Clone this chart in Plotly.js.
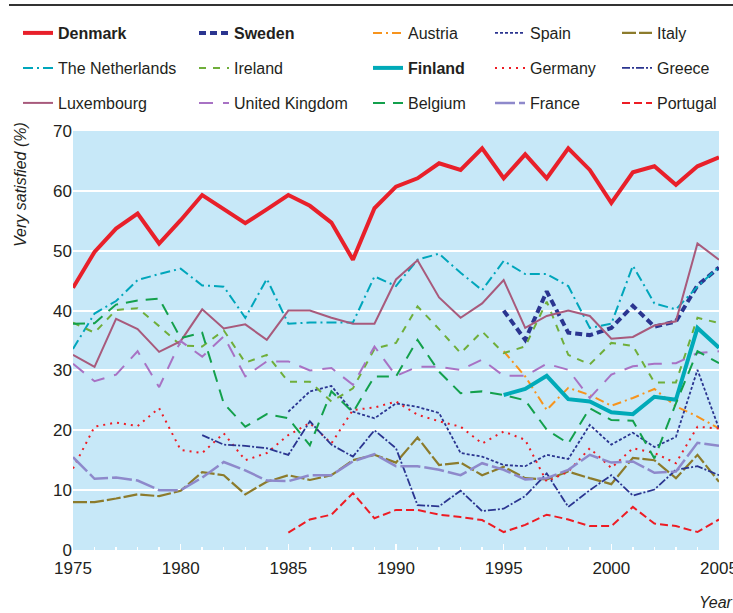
<!DOCTYPE html>
<html>
<head>
<meta charset="utf-8">
<script src="https://cdn.plot.ly/plotly-3.0.1.min.js"></script>
<style>html,body{margin:0;padding:0;background:#fff;}#chart{width:733px;height:613px;}</style>
</head>
<body>
<div id="chart"></div>
<script>
const years = [1975,1976,1977,1978,1979,1980,1981,1982,1983,1984,1985,1986,1987,1988,1989,1990,1991,1992,1993,1994,1995,1996,1997,1998,1999,2000,2001,2002,2003,2004,2005];
const years81 = years.slice(6);
const years85 = years.slice(10);
const years95 = years.slice(20);
const xTickLabels = ['1975','1980','1985','1990','1995','2000','2005'];

const denmark = [43.8,49.8,53.7,56.2,51.2,55.1,59.3,57.0,54.6,56.9,59.3,57.5,54.7,48.5,57.1,60.7,62.1,64.6,63.5,67.1,62.1,66.1,62.1,67.1,63.5,58.0,63.1,64.1,61.0,64.1,65.6];
const netherlands = [33.6,39.5,41.6,45.1,46.1,47.0,44.2,44.0,38.8,45.3,37.8,38.0,38.0,38.0,45.7,44.1,48.5,49.5,46.3,43.4,48.3,46.1,46.1,44.1,37.1,37.8,47.5,41.2,40.2,44.0,47.3];
const luxembourg = [32.6,30.6,38.6,36.9,33.1,34.9,40.2,37.0,37.7,35.1,40.0,40.0,38.8,37.8,37.8,45.2,48.4,42.2,38.8,41.2,45.1,37.1,39.1,40.0,39.1,35.3,35.6,37.5,38.2,51.2,48.5];
const ireland = [38.0,36.3,40.1,40.4,37.4,34.2,34.0,36.7,31.3,32.6,28.1,28.1,24.8,27.0,33.6,34.6,40.7,36.9,32.9,36.5,32.9,34.0,41.5,32.6,31.0,34.6,34.1,28.0,28.0,38.8,37.9];
const belgium = [37.8,37.9,41.0,41.7,42.0,35.4,36.3,24.5,20.6,22.7,22.0,17.5,26.5,23.0,29.0,29.0,35.1,29.8,26.2,26.5,25.9,25.0,20.1,17.8,23.7,21.7,21.6,15.3,24.5,33.2,31.2];
const uk = [31.1,28.2,29.3,33.2,27.2,34.9,32.3,35.7,29.0,31.5,31.5,30.0,30.4,27.6,34.0,29.1,30.6,30.6,30.1,31.8,29.1,29.1,31.1,30.1,25.4,29.3,30.7,31.1,31.2,32.9,33.2];
const germany = [13.6,20.6,21.3,20.7,23.7,16.7,16.2,19.5,15.0,16.2,19.2,21.2,17.8,23.4,23.8,24.8,22.6,21.5,20.6,17.8,19.8,18.4,11.4,13.1,17.0,13.7,17.0,16.2,14.5,20.6,20.3];
const italy = [8.0,8.0,8.6,9.3,9.0,9.9,13.0,12.5,9.3,11.4,12.5,11.7,12.5,15.0,15.9,14.6,18.8,14.2,14.6,12.5,13.9,12.0,11.8,13.1,12.0,11.0,15.4,15.0,12.0,15.9,11.4];
const france = [15.5,11.9,12.1,11.6,10.0,10.0,12.1,14.7,13.3,11.6,11.5,12.5,12.5,14.8,16.0,14.0,14.0,13.4,12.5,14.5,13.4,11.8,12.0,13.4,15.9,14.6,14.8,12.9,13.1,17.9,17.4];
const greece = [19.2,17.6,17.4,17.0,15.9,21.5,17.6,15.6,20.0,17.0,7.5,7.3,9.9,6.5,6.9,9.0,12.8,7.2,10.0,12.5,9.1,10.1,13.4,14.0,12.5];
const spain = [23.1,26.5,27.4,23.1,22.0,24.5,23.9,22.9,16.2,15.6,14.2,14.0,15.9,15.2,20.9,17.6,19.6,17.2,18.9,30.1,20.3];
const portugal = [2.9,5.1,5.9,9.5,5.3,6.7,6.7,5.9,5.5,5.0,3.0,4.2,5.9,5.1,4.0,4.0,7.2,4.4,4.0,3.0,5.1];
const sweden = [40.0,35.1,43.2,36.3,35.9,37.1,40.8,37.3,38.2,44.2,47.2];
const austria = [33.2,29.0,23.4,27.1,25.9,24.1,25.4,26.9,24.0,22.3,20.3];
const finland = [25.9,26.9,29.1,25.2,24.8,23.0,22.7,25.6,25.1,37.1,33.8];

const FONT = '"Liberation Sans Narrow", "Liberation Sans", Arial, sans-serif';
const TXT = '#231f20';

// [name, x, y, color, width, dash, bold, legendRow, legendCol]
const series = [
  ['Denmark', years, denmark, '#e8202a', 4, 'solid', true, 0, 0],
  ['Sweden', years95, sweden, '#2b3590', 4, '7px,4px', true, 0, 1],
  ['Austria', years95, austria, '#f7941d', 2, '9px,4px,2px,4px', false, 0, 2],
  ['Spain', years85, spain, '#2b3590', 1.8, '3px,2px', false, 0, 3],
  ['Italy', years, italy, '#8c7b2c', 2.2, '14px,3px', false, 0, 4],
  ['The Netherlands', years, netherlands, '#00a6bb', 2, '10px,4px,2px,4px', false, 1, 0],
  ['Ireland', years, ireland, '#6fae3a', 2, '7px,7px', false, 1, 1],
  ['Finland', years95, finland, '#00aab8', 4, 'solid', true, 1, 2],
  ['Germany', years, germany, '#ed1c24', 2, '2px,5px', false, 1, 3],
  ['Greece', years81, greece, '#2b3590', 1.8, '8px,2px,2px,2px', false, 1, 4],
  ['Luxembourg', years, luxembourg, '#a85a7c', 2, 'solid', false, 2, 0],
  ['United Kingdom', years, uk, '#a872c4', 2, '14px,10px', false, 2, 1],
  ['Belgium', years, belgium, '#13a04c', 2, '12px,8px', false, 2, 2],
  ['France', years, france, '#8e89cb', 2.5, '20px,4px', false, 2, 3],
  ['Portugal', years85, portugal, '#ed1c24', 2, '8px,4px', false, 2, 4]
];

const L = 73, R = 719, T = 131, B = 550, W = 733, H = 613;
const pw = R - L, ph = B - T;
const colTextX = [58, 234, 408, 530, 657];
const rowY = [33, 68, 103];

const traces = [];
const layout = {
  width: W, height: H,
  margin: {l: L, r: W - R, t: T, b: H - B, pad: 0, autoexpand: false},
  paper_bgcolor: '#ffffff',
  plot_bgcolor: '#c7e8f8',
  font: {family: FONT, size: 16, color: TXT},
  showlegend: true,
  xaxis: {
    range: [1975, 2005], tickvals: xTickLabels.map(Number), ticktext: xTickLabels,
    ticks: 'inside', ticklen: 6, tickwidth: 1.5, tickcolor: '#ffffff',
    minor: {ticks: 'inside', ticklen: 3, tickwidth: 1.5, tickcolor: '#ffffff', dtick: 1, showgrid: false},
    showgrid: false, zeroline: false, showline: false, automargin: false,
    ticklabelstandoff: 6, ticklabeloverflow: 'allow',
    tickfont: {family: FONT, size: 17, color: TXT}
  },
  yaxis: {
    range: [0, 70], dtick: 10, showgrid: true, gridcolor: '#ffffff', gridwidth: 2,
    zeroline: false, showline: false, ticks: '', automargin: false,
    tickfont: {family: FONT, size: 17, color: TXT}
  },
  shapes: [{
    type: 'line', xref: 'paper', yref: 'paper',
    x0: (9 - L) / pw, x1: (W - L) / pw, y0: (B - 5) / ph, y1: (B - 5) / ph,
    line: {color: '#333333', width: 2}
  }],
  annotations: [
    {text: 'Very satisfied (%)', xref: 'paper', yref: 'paper', x: (20 - L) / pw, y: (B - 185) / ph,
     textangle: -90, showarrow: false, xanchor: 'center', yanchor: 'middle',
     font: {family: FONT, size: 16, color: TXT, style: 'italic'}},
    {text: 'Year', xref: 'paper', yref: 'paper', x: (697 - L) / pw, y: (B - 602) / ph,
     showarrow: false, xanchor: 'left', yanchor: 'middle',
     font: {family: FONT, size: 16, color: TXT, style: 'italic'}}
  ]
};

series.forEach((s, i) => {
  const [name, xs, ys, color, width, dash, bold, row, col] = s;
  const lid = i === 0 ? 'legend' : 'legend' + (i + 1);
  traces.push({
    type: 'scatter', mode: 'lines', name: bold ? '<b>' + name + '</b>' : name,
    x: xs, y: ys, line: {color: color, width: width, dash: dash},
    legend: lid, hoverinfo: 'skip'
  });
  layout[lid] = {
    xref: 'container', yref: 'container',
    x: (colTextX[col] - 40) / W, xanchor: 'left',
    y: 1 - rowY[row] / H, yanchor: 'middle',
    bgcolor: 'rgba(0,0,0,0)', borderwidth: 0,
    font: {family: FONT, size: 16, color: TXT}
  };
});

// draw Denmark on top
const order = traces.slice(1).concat([traces[0]]);
Plotly.newPlot('chart', order, layout, {staticPlot: true, displayModeBar: false});
</script>
</body>
</html>
